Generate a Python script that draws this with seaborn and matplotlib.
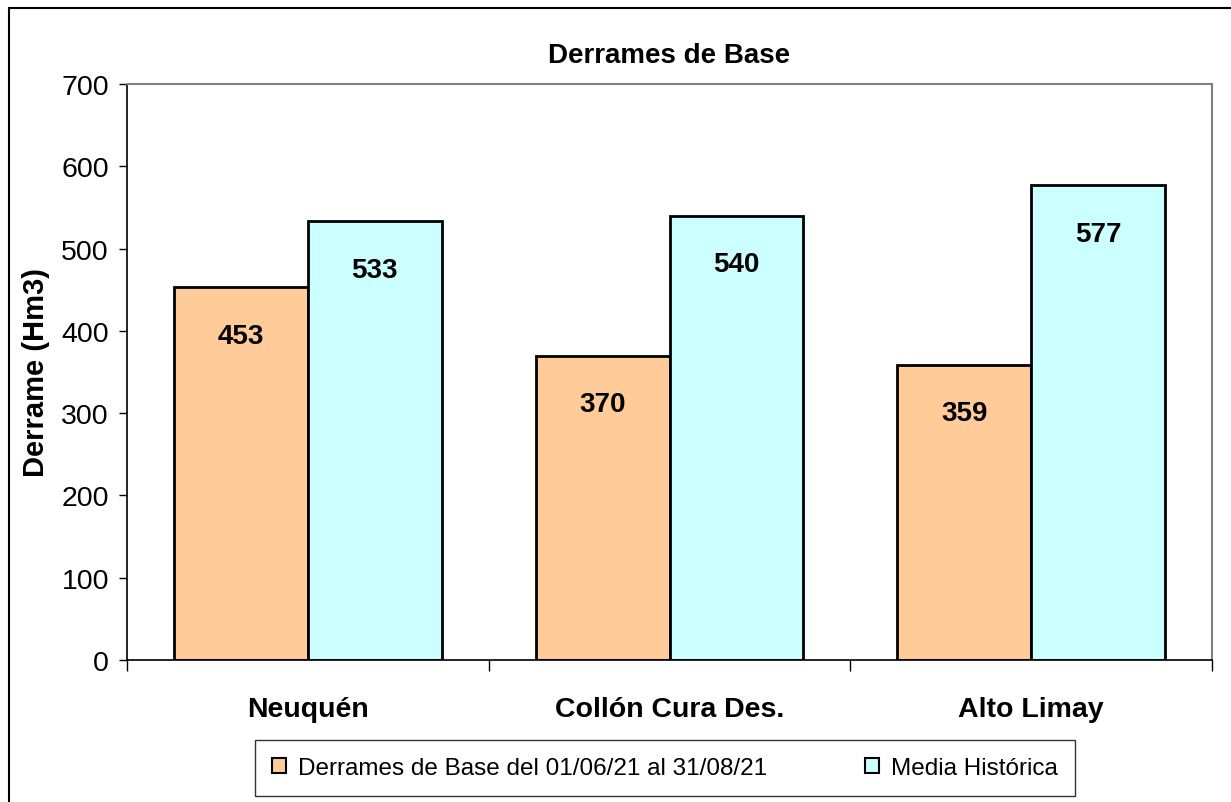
import pandas as pd
import matplotlib
matplotlib.use('Agg')
import matplotlib.pyplot as plt
import seaborn as sns
from matplotlib.patches import Rectangle

cuencas = ['Neuquén', 'Collón Cura Des.', 'Alto Limay']
derrame_base = [453, 370, 359]
media_historica = [533, 540, 577]
serie_base = 'Derrames de Base del 01/06/21 al 31/08/21'
serie_media = 'Media Histórica'

df = pd.DataFrame({
    'cuenca': cuencas * 2,
    'serie': [serie_base] * 3 + [serie_media] * 3,
    'derrame': derrame_base + media_historica,
})

sns.set_style('white')
plt.rcParams['font.family'] = ['Liberation Sans', 'DejaVu Sans']
plt.rcParams['text.color'] = 'black'
plt.rcParams['axes.labelcolor'] = 'black'
plt.rcParams['xtick.color'] = 'black'
plt.rcParams['ytick.color'] = 'black'

fig = plt.figure(figsize=(12.31, 8.03), dpi=100)
ax = fig.add_axes([127 / 1231, 1 - 661 / 803, (1212 - 127) / 1231, (661 - 85) / 803])

sns.barplot(data=df, x='cuenca', y='derrame', hue='serie', order=cuencas,
            hue_order=[serie_base, serie_media],
            palette=['#FFCC99', '#CCFFFF'], width=0.74, saturation=1,
            edgecolor='black', linewidth=2, errorbar=None, ax=ax)

# etiquetas de valores dentro de las barras
for cont in ax.containers:
    for bar in cont:
        h = bar.get_height()
        ax.annotate(f'{h:.0f}', (bar.get_x() + bar.get_width() / 2, h),
                    xytext=(0, -35), textcoords='offset points',
                    ha='center', va='center', fontsize=20, fontweight='bold')

ax.set_ylim(0, 700)
ax.set_xlim(-0.5, 2.5)
ax.set_yticks(range(0, 701, 100))
ax.tick_params(axis='y', labelsize=20.5, length=6, width=1, direction='out', left=True, pad=7)
ax.set_xticks([0, 1, 2])
ax.set_xticklabels(cuencas, fontsize=20.5, fontweight='bold')
ax.tick_params(axis='x', length=0, pad=26)
ax.set_xticks([-0.5, 0.5, 1.5, 2.5], minor=True)
ax.tick_params(axis='x', which='minor', length=8, width=1, bottom=True)

ax.set_xlabel('')
ax.set_ylabel('Derrame (Hm3)', fontsize=21, fontweight='bold', labelpad=8)
ax.set_title('Derrames de Base', fontsize=20, fontweight='bold', pad=16)

for s in ['top', 'right']:
    ax.spines[s].set_color('#808080')
    ax.spines[s].set_linewidth(1.5)
for s in ['left', 'bottom']:
    ax.spines[s].set_color('black')
    ax.spines[s].set_linewidth(1.2)

ax.get_legend().remove()
handles = [Rectangle((0, 0), 1, 1, facecolor=c, edgecolor='black', linewidth=1.5)
           for c in ['#FFCC99', '#CCFFFF']]
leg = fig.legend(handles, [serie_base, serie_media], loc='center',
                 bbox_to_anchor=(665 / 1231, 1 - 769 / 803), ncol=2,
                 fontsize=17.5, frameon=True, fancybox=False, handlelength=0.6,
                 handleheight=0.6, handletextpad=0.5, columnspacing=4.0,
                 borderpad=0.7, borderaxespad=0)
leg.get_frame().set_edgecolor('black')
leg.get_frame().set_linewidth(1)

# borde exterior del gráfico
fig.patches.append(Rectangle((9 / 1231, -0.1), 1.2, 1 - 9 / 803 + 0.1,
                             transform=fig.transFigure, fill=False,
                             edgecolor='black', linewidth=1.5))

fig.savefig('out.png', dpi=100)
